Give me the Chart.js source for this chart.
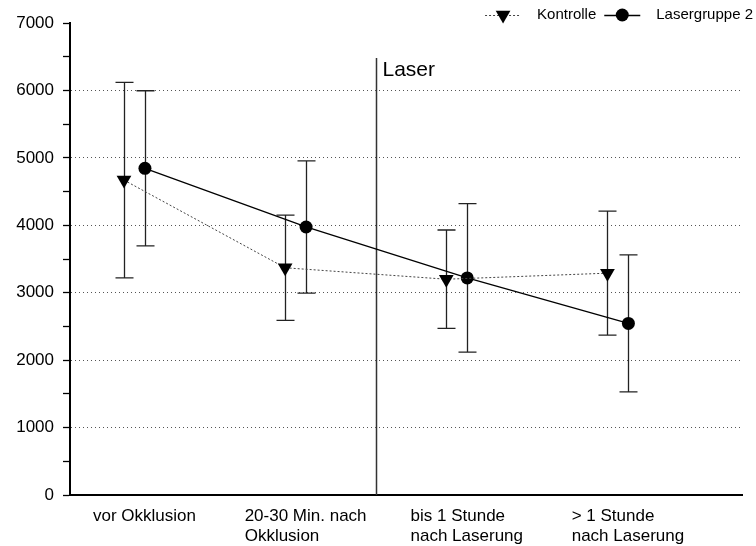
<!DOCTYPE html>
<html>
<head>
<meta charset="utf-8">
<script src="https://cdn.jsdelivr.net/npm/chart.js@4.4.0/dist/chart.umd.min.js"></script>
<style>
  body { margin: 0; background: #fff; }
  #wrap { width: 756px; height: 546px; }
</style>
</head>
<body>
<div id="wrap"><canvas id="chart" width="756" height="546"></canvas></div>
<script>
// Kategorien (x-Achse)
const categories = [
    ['vor Okklusion'],
    ['20-30 Min. nach', 'Okklusion'],
    ['bis 1 Stunde', 'nach Laserung'],
    ['> 1 Stunde', 'nach Laserung']
];

// Mittelwerte und Standardabweichungen
const kontrolleMean = [4670, 3370, 3200, 3290];
const kontrolleSd = [1450, 780, 730, 920];
const laserMean = [4845, 3975, 3220, 2545];
const laserSd = [1150, 980, 1100, 1015];

// Beschriftungen der y-Achse
const yTicks = [0, 1000, 2000, 3000, 4000, 5000, 6000, 7000];

// Zeitpunkt der Laserung (zwischen Kategorie 2 und 3)
const laserAt = 2.5;
const laserLineTop = 6480;

const groupShift = 0.065;
const FONT = 'Liberation Sans, Arial, Helvetica, sans-serif';

function toPoints(means, shift) {
    return means.map((v, i) => ({ x: i + 1 + shift, y: v }));
}

// Fehlerbalken, Laser-Linie, x-Beschriftung und Legende
const extrasPlugin = {
    id: 'extras',
    beforeDatasetsDraw(chart) {
        const ctx = chart.ctx;
        const xs = chart.scales.x;
        const ys = chart.scales.y;
        const area = chart.chartArea;

        // Laser-Linie
        const lx = Math.round(xs.getPixelForValue(laserAt)) + 0.5;
        ctx.save();
        ctx.strokeStyle = '#333';
        ctx.lineWidth = 1.5;
        ctx.beginPath();
        ctx.moveTo(lx, ys.getPixelForValue(laserLineTop));
        ctx.lineTo(lx, area.bottom);
        ctx.stroke();
        ctx.fillStyle = '#000';
        ctx.font = '21px ' + FONT;
        ctx.textBaseline = 'alphabetic';
        ctx.textAlign = 'left';
        ctx.fillText('Laser', lx + 6, ys.getPixelForValue(laserLineTop) + 18);
        ctx.restore();

        // Fehlerbalken
        chart.data.datasets.forEach(ds => {
            ctx.save();
            ctx.strokeStyle = '#222';
            ctx.lineWidth = 1.3;
            ds.data.forEach((p, i) => {
                const x = Math.round(xs.getPixelForValue(p.x)) + 0.5;
                const yTop = ys.getPixelForValue(p.y + ds.sd[i]);
                const yBot = ys.getPixelForValue(p.y - ds.sd[i]);
                ctx.beginPath();
                ctx.moveTo(x, yTop);
                ctx.lineTo(x, yBot);
                ctx.moveTo(x - 9, yTop);
                ctx.lineTo(x + 9, yTop);
                ctx.moveTo(x - 9, yBot);
                ctx.lineTo(x + 9, yBot);
                ctx.stroke();
            });
            ctx.restore();
        });
    },
    afterDraw(chart) {
        const ctx = chart.ctx;
        const xs = chart.scales.x;

        // x-Beschriftung, Zeilen linksbündig
        ctx.save();
        ctx.font = '17px ' + FONT;
        ctx.fillStyle = '#000';
        ctx.textAlign = 'left';
        ctx.textBaseline = 'alphabetic';
        categories.forEach((lines, i) => {
            const w = Math.max(...lines.map(l => ctx.measureText(l).width));
            const left = xs.getPixelForValue(i + 1) + 10 - w / 2;
            lines.forEach((l, j) => {
                ctx.fillText(l, left, xs.top + 26 + j * 20);
            });
        });
        ctx.restore();

        // Legende oben rechts
        ctx.save();
        ctx.font = '15px ' + FONT;
        ctx.textBaseline = 'middle';
        ctx.textAlign = 'left';
        const sample = 36, gapText = 16, gapItem = 8, y = 15;
        const items = chart.data.datasets;
        let total = 0;
        items.forEach((ds, i) => {
            total += sample + gapText + ctx.measureText(ds.label).width;
            if (i < items.length - 1) total += gapItem;
        });
        let x = chart.width - 3 - total;
        items.forEach(ds => {
            ctx.save();
            ctx.strokeStyle = ds.borderColor;
            ctx.lineWidth = ds.borderWidth;
            ctx.setLineDash(ds.borderDash || []);
            ctx.beginPath();
            ctx.moveTo(x, y + 0.5);
            ctx.lineTo(x + sample, y + 0.5);
            ctx.stroke();
            ctx.restore();
            Chart.helpers.drawPoint(ctx, {
                pointStyle: ds.pointStyle,
                rotation: ds.pointRotation || 0,
                radius: ds.pointRadius,
                borderWidth: 0
            }, x + sample / 2, y);
            ctx.fillStyle = '#000';
            ctx.fillText(ds.label, x + sample + gapText, y);
            x += sample + gapText + ctx.measureText(ds.label).width + gapItem;
        });
        ctx.restore();
    }
};

const ctx = document.getElementById('chart').getContext('2d');
ctx.fillStyle = '#000';

const chart = new Chart(ctx, {
    type: 'line',
    data: {
        datasets: [
            {
                label: 'Kontrolle',
                data: toPoints(kontrolleMean, -groupShift),
                sd: kontrolleSd,
                borderColor: '#444',
                borderWidth: 1,
                borderDash: [2, 2],
                pointStyle: 'triangle',
                pointRotation: 180,
                pointRadius: 8.5,
                pointBackgroundColor: '#000',
                pointBorderWidth: 0,
                fill: false,
                tension: 0
            },
            {
                label: 'Lasergruppe 2',
                data: toPoints(laserMean, groupShift),
                sd: laserSd,
                borderColor: '#000',
                borderWidth: 1.3,
                pointStyle: 'circle',
                pointRadius: 6.5,
                pointBackgroundColor: '#000',
                pointBorderWidth: 0,
                fill: false,
                tension: 0
            }
        ]
    },
    options: {
        responsive: false,
        animation: false,
        devicePixelRatio: 1,
        layout: { padding: { top: 23, right: 14, left: 0, bottom: 0 } },
        plugins: {
            legend: { display: false },
            tooltip: { enabled: false }
        },
        scales: {
            x: {
                type: 'linear',
                min: 0.6,
                max: 4.77,
                grid: { display: false },
                border: { display: true, color: '#000', width: 2 },
                ticks: { display: false },
                afterFit: s => { s.height = 51; }
            },
            y: {
                min: 0,
                max: yTicks[yTicks.length - 1],
                border: { display: true, color: '#000', width: 2, dash: [1, 3] },
                grid: {
                    color: c => (yTicks.includes(c.tick.value) && c.tick.value > 0 && c.tick.value < 7000) ? '#555' : 'rgba(0,0,0,0)',
                    tickColor: '#000',
                    tickLength: 7,
                    tickWidth: 1.3,
                    lineWidth: 1
                },
                ticks: {
                    stepSize: 500,
                    autoSkip: false,
                    padding: 9,
                    color: '#000',
                    font: { family: FONT, size: 17 },
                    callback: v => yTicks.includes(v) ? String(v) : ''
                },
                afterFit: s => { s.width = 70; }
            }
        }
    },
    plugins: [extrasPlugin]
});
</script>
</body>
</html>
